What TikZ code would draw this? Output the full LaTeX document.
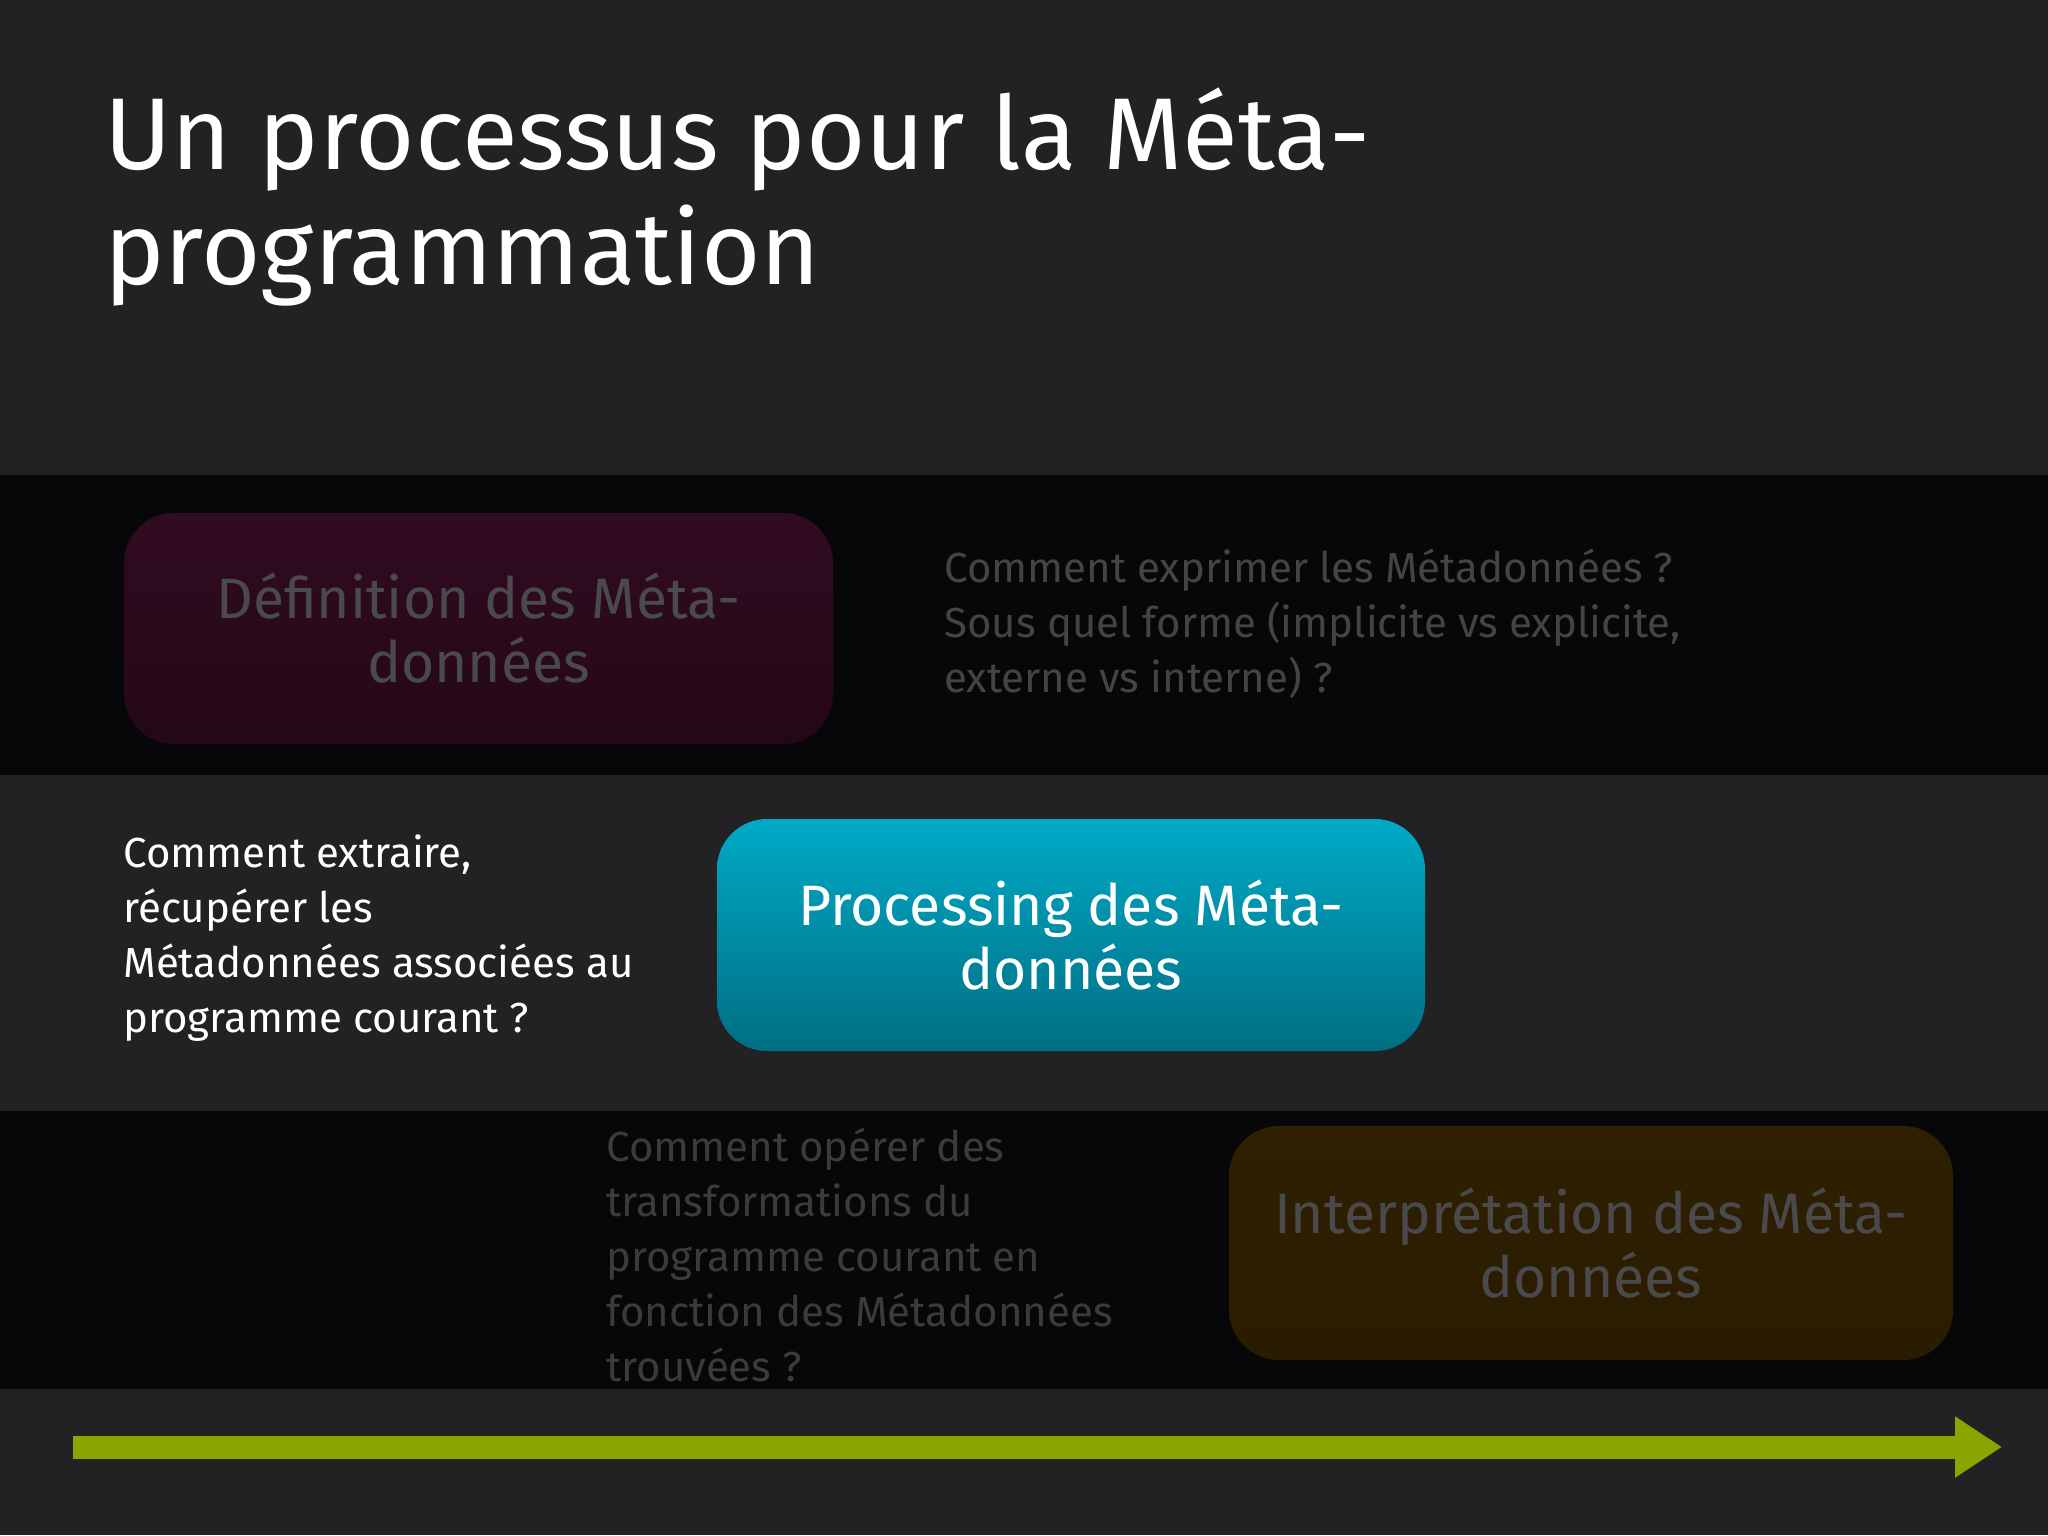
\documentclass[tikz,border=0pt]{standalone}
\usepackage{fontspec}
\setmainfont{Fira Sans}
\newfontfamily\handfont{Fira Sans}
\usetikzlibrary{arrows.meta}

\definecolor{slidebg}{HTML}{222224}
\definecolor{bandbg}{HTML}{070709}
\definecolor{defitop}{HTML}{310B21}
\definecolor{defibot}{HTML}{240817}
\definecolor{proctop}{HTML}{00AAC6}
\definecolor{procbot}{HTML}{006E83}
\definecolor{interptop}{HTML}{2F2002}
\definecolor{interpbot}{HTML}{2A1C00}
\definecolor{fadedtext}{HTML}{4A4A4C}
\definecolor{fadedhand}{HTML}{444446}
\definecolor{timeline}{HTML}{8AA500}

\begin{document}
\begin{tikzpicture}[x=0.5pt,y=-0.5pt,
  metabox/.style={rounded corners=25pt, inner sep=0pt, align=center,
    font=\fontsize{28.5}{32}\selectfont},
  question/.style={anchor=north west, inner sep=0pt, align=left,
    font=\handfont\fontsize{21}{27.5}\selectfont}]
% slide and bands
\fill[slidebg] (0,0) rectangle (2048,1535);
\fill[bandbg] (0,475) rectangle (2048,775);
\fill[bandbg] (0,1111) rectangle (2048,1389);
\useasboundingbox (0,0) rectangle (2048,1535);

% title
\node[anchor=base west, inner sep=0pt, align=left, text=white,
  font=\fontsize{51}{57.5}\selectfont] (title) at (104,285)
  {Un processus pour la Méta-\\programmation};

% steps
\node[metabox, top color=defitop, bottom color=defibot, text=fadedtext,
  minimum width=354.5pt, minimum height=115.5pt] (defi) at (478.5,628.5)
  {Définition des Méta-\\données};
\node[metabox, top color=proctop, bottom color=procbot, text=white,
  minimum width=354pt, minimum height=116pt] (proc) at (1071,935)
  {Processing des Méta-\\données};
\node[metabox, top color=interptop, bottom color=interpbot, text=fadedtext,
  minimum width=362pt, minimum height=117pt] (interp) at (1591,1243)
  {Interprétation des Méta-\\données};

% questions
\node[question, text=fadedhand] (qdefi) at (944,548)
  {Comment exprimer les Métadonnées ?\\Sous quel forme (implicite vs explicite,\\externe vs interne) ?};
\node[question, text=white] (qproc) at (123,834)
  {Comment extraire,\\récupérer les\\Métadonnées associées au\\programme courant ?};
\node[question, text=fadedhand!85!bandbg] (qinterp) at (606,1127)
  {Comment opérer des\\transformations du\\programme courant en\\fonction des Métadonnées\\trouvées ?};

% time line
\coordinate (tstart) at (73,1447);
\coordinate (tend) at (2002,1447);
\draw[timeline, line width=11.5pt, -{Triangle[length=23.5pt,width=29pt]}] (tstart) -- (tend);
\end{tikzpicture}
\end{document}
